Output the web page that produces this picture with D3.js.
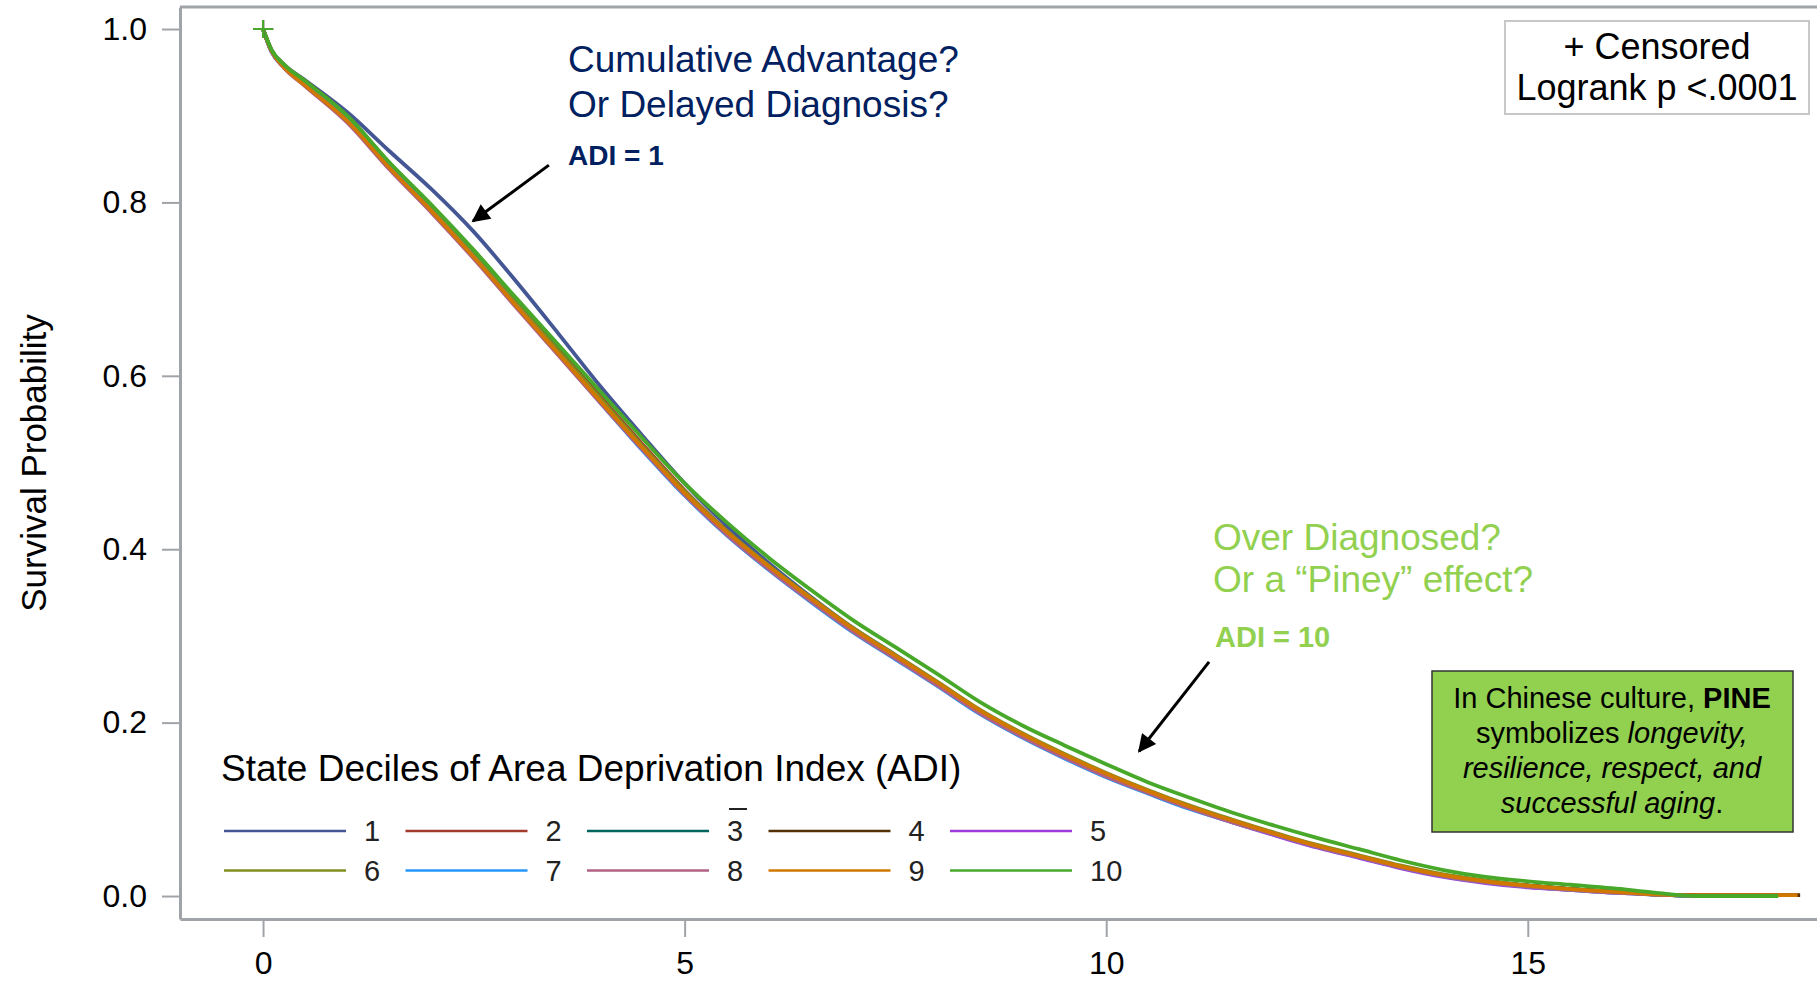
<!DOCTYPE html>
<html>
<head>
<meta charset="utf-8">
<script src="https://cdn.jsdelivr.net/npm/d3@7"></script>
<style>
  body { margin: 0; background: #fff; }
  text { font-family: "Liberation Sans", Arial, sans-serif; }
</style>
</head>
<body>
<div class="canvas"></div>
<script>
// survival time grid (years) and Kaplan-Meier estimates
const times = [0, 0.1, 0.25, 0.5, 1, 1.5, 2, 2.5, 3, 3.5, 4, 4.5, 5, 5.5, 6, 6.5, 7, 7.5, 8, 8.5,
  9, 9.5, 10, 10.5, 11, 11.5, 12, 12.5, 13, 13.5, 14, 14.5, 15, 15.5, 16, 16.5, 17];

const adi1 = [1.000,0.976,0.959,0.941,0.904,0.859,0.815,0.766,0.709,0.649,0.588,0.531,0.476,0.427,0.384,0.345,0.309,0.278,0.246,0.214,
  0.187,0.163,0.141,0.121,0.103,0.087,0.072,0.058,0.046,0.034,0.024,0.017,0.012,0.008,0.005,0.002,0.000];
const adi2 = [1.000,0.975,0.958,0.940,0.899,0.845,0.795,0.742,0.686,0.631,0.576,0.521,0.468,0.421,0.380,0.343,0.308,0.277,0.246,0.214,
  0.187,0.163,0.141,0.121,0.103,0.087,0.072,0.058,0.046,0.034,0.024,0.017,0.012,0.008,0.005,0.002,0.001];
const adi3 = [1.000,0.975,0.957,0.937,0.896,0.842,0.792,0.738,0.682,0.627,0.572,0.517,0.465,0.419,0.378,0.341,0.306,0.275,0.244,0.212,
  0.185,0.161,0.139,0.120,0.102,0.087,0.072,0.058,0.046,0.034,0.024,0.017,0.012,0.008,0.005,0.002,0.000];
const adi4 = [1.000,0.975,0.957,0.938,0.897,0.843,0.793,0.739,0.683,0.628,0.573,0.518,0.466,0.420,0.380,0.343,0.308,0.277,0.246,0.214,
  0.187,0.163,0.141,0.121,0.103,0.087,0.072,0.058,0.046,0.034,0.024,0.017,0.012,0.008,0.005,0.002,0.001];
const adi5 = [1.000,0.974,0.956,0.936,0.895,0.842,0.792,0.739,0.683,0.628,0.573,0.518,0.466,0.420,0.380,0.343,0.308,0.277,0.246,0.214,
  0.187,0.163,0.140,0.119,0.101,0.085,0.070,0.056,0.044,0.032,0.022,0.015,0.010,0.007,0.004,0.002,0.000];
const adi6 = [1.000,0.975,0.958,0.938,0.897,0.843,0.793,0.740,0.684,0.629,0.574,0.519,0.467,0.421,0.381,0.344,0.309,0.278,0.247,0.215,
  0.188,0.164,0.142,0.122,0.104,0.088,0.073,0.059,0.047,0.035,0.025,0.018,0.012,0.008,0.005,0.002,0.000];
const adi7 = [1.000,0.974,0.956,0.936,0.895,0.841,0.790,0.737,0.681,0.625,0.569,0.514,0.462,0.416,0.376,0.339,0.304,0.273,0.242,0.210,
  0.183,0.159,0.137,0.118,0.100,0.085,0.071,0.057,0.045,0.033,0.023,0.016,0.011,0.007,0.004,0.002,0.000];
const adi8 = [1.000,0.974,0.955,0.934,0.892,0.838,0.788,0.735,0.679,0.624,0.569,0.515,0.463,0.417,0.377,0.340,0.305,0.274,0.243,0.211,
  0.184,0.160,0.138,0.119,0.101,0.085,0.071,0.057,0.045,0.033,0.023,0.016,0.011,0.007,0.004,0.002,0.000];
const adi9 = [1.000,0.975,0.956,0.935,0.894,0.840,0.790,0.737,0.681,0.626,0.571,0.517,0.465,0.420,0.380,0.343,0.308,0.277,0.246,0.214,
  0.187,0.163,0.141,0.121,0.103,0.087,0.072,0.058,0.046,0.034,0.024,0.017,0.012,0.008,0.005,0.002,0.001];
const adi10 = [1.000,0.976,0.959,0.940,0.900,0.846,0.797,0.745,0.690,0.636,0.582,0.528,0.476,0.431,0.390,0.353,0.318,0.287,0.256,0.224,
  0.197,0.174,0.152,0.131,0.113,0.096,0.081,0.067,0.054,0.041,0.030,0.022,0.017,0.013,0.009,0.004,0.000];

// last follow-up time of each group (curve stays flat to here)
const endTimes = [17.0, 17.0, 17.0, 18.23, 17.0, 17.0, 17.0, 17.0, 18.2, 17.97];

const groups = ['1', '2', '3', '4', '5', '6', '7', '8', '9', '10'];
const series = [adi1, adi2, adi3, adi4, adi5, adi6, adi7, adi8, adi9, adi10];
const colors = ['#445694', '#A23A2E', '#01665E', '#543005', '#9D3CDB',
  '#7F8E1F', '#2597FA', '#B26084', '#D17800', '#47A82A'];

const xTicks = [0, 5, 10, 15];
const yTicks = [0, 0.2, 0.4, 0.6, 0.8, 1.0];

// dimensions
const margin = { top: 7, left: 180 };
const width = 1817;
const height = 983;
const graphWidth = width - margin.left;
const graphHeight = 912;
const font = '"Liberation Sans", Arial, sans-serif';
const axisColor = '#a0a4a8';
const navy = '#002060';
const lightGreen = '#92D050';

const svg = d3.select('.canvas')
    .append('svg')
    .attr('width', width)
    .attr('height', height);

const graph = svg.append('g')
    .attr('transform', `translate(${margin.left}, ${margin.top})`);

// scales
const x = d3.scaleLinear().domain([-0.985, 18.43]).range([0, graphWidth]);
const y = d3.scaleLinear().domain([-0.0265, 1.0254]).range([graphHeight, 0]);

// axes
const yAxis = d3.axisLeft(y)
    .tickValues(yTicks)
    .tickFormat(d3.format('.1f'))
    .tickSize(18)
    .tickSizeOuter(0)
    .tickPadding(15);

const xAxis = d3.axisBottom(x)
    .tickValues(xTicks)
    .tickFormat(d3.format('d'))
    .tickSize(18)
    .tickSizeOuter(0)
    .tickPadding(14);

const yAxisGroup = graph.append('g').call(yAxis);
const xAxisGroup = graph.append('g')
    .attr('transform', `translate(0, ${graphHeight})`)
    .call(xAxis);

[xAxisGroup, yAxisGroup].forEach(g => {
    g.attr('font-family', font).attr('font-size', 32);
    g.select('.domain').attr('stroke', axisColor).attr('stroke-width', 3);
    g.selectAll('.tick line').attr('stroke', axisColor).attr('stroke-width', 2);
    g.selectAll('.tick text').attr('fill', '#000');
});

// top frame line
graph.append('line')
    .attr('x1', 0).attr('x2', graphWidth)
    .attr('y1', 0).attr('y2', 0)
    .attr('stroke', axisColor)
    .attr('stroke-width', 3);

// y axis title
svg.append('text')
    .attr('transform', 'translate(46, 463) rotate(-90)')
    .attr('text-anchor', 'middle')
    .attr('font-size', 35)
    .attr('fill', '#000')
    .text('Survival Probability');

// survival curves
const line = d3.line()
    .x(d => x(d.t))
    .y(d => y(d.s))
    .curve(d3.curveMonotoneX);

const curveData = series.map((vals, i) => {
    const pts = times.map((t, j) => ({ t: t, s: vals[j] }));
    if (endTimes[i] > times[times.length - 1]) {
        pts.push({ t: endTimes[i], s: vals[vals.length - 1] });
    }
    return pts;
});

graph.selectAll('path.km')
    .data(curveData)
    .enter()
    .append('path')
        .attr('class', 'km')
        .attr('d', line)
        .attr('fill', 'none')
        .attr('stroke', (d, i) => colors[i])
        .attr('stroke-width', 3.8);

// censored marks at start
graph.selectAll('path.cens')
    .data(series)
    .enter()
    .append('path')
        .attr('class', 'cens')
        .attr('d', d => {
            const cx = x(times[0]), cy = y(d[0]);
            return `M${cx - 10},${cy}H${cx + 10}M${cx},${cy - 9}V${cy + 9}`;
        })
        .attr('fill', 'none')
        .attr('stroke', (d, i) => colors[i])
        .attr('stroke-width', 2);

// legend
svg.append('text')
    .attr('x', 221)
    .attr('y', 781)
    .attr('font-size', 37)
    .attr('fill', '#000')
    .text('State Deciles of Area Deprivation Index (ADI)');

const legend = svg.selectAll('g.item')
    .data(groups)
    .enter()
    .append('g')
        .attr('class', 'item')
        .attr('transform', (d, i) => `translate(${224 + (i % 5) * 181.5}, ${831 + Math.floor(i / 5) * 39.5})`);

legend.append('line')
    .attr('x1', 0).attr('x2', 122)
    .attr('y1', 0).attr('y2', 0)
    .attr('stroke', (d, i) => colors[i])
    .attr('stroke-width', 2.5);

legend.append('text')
    .attr('x', 140)
    .attr('y', 10)
    .attr('font-size', 29)
    .attr('fill', '#222')
    .text(d => d);

// stray bar over the "3"
legend.filter(d => d === '3')
    .append('line')
    .attr('x1', 142).attr('x2', 160)
    .attr('y1', -22).attr('y2', -22)
    .attr('stroke', '#222')
    .attr('stroke-width', 2);

// censored / logrank inset
svg.append('rect')
    .attr('x', 1505).attr('y', 21)
    .attr('width', 304).attr('height', 93)
    .attr('fill', '#fff')
    .attr('stroke', '#c8c8c8')
    .attr('stroke-width', 2);

svg.selectAll('text.inset')
    .data(['+ Censored', 'Logrank p <.0001'])
    .enter()
    .append('text')
        .attr('class', 'inset')
        .attr('x', 1657)
        .attr('y', (d, i) => 59 + i * 41)
        .attr('text-anchor', 'middle')
        .attr('font-size', 36)
        .attr('fill', '#000')
        .text(d => d);

// arrow head
svg.append('defs').append('marker')
    .attr('id', 'arrow')
    .attr('viewBox', '0 0 10 10')
    .attr('refX', 9)
    .attr('refY', 5)
    .attr('markerUnits', 'userSpaceOnUse')
    .attr('markerWidth', 24)
    .attr('markerHeight', 18)
    .attr('orient', 'auto')
  .append('path')
    .attr('d', 'M0,0L10,5L0,10Z')
    .attr('fill', '#000');

// annotation: ADI = 1
const note1 = svg.append('text').attr('font-size', 37).attr('fill', navy);
note1.append('tspan').attr('x', 568).attr('y', 72).text('Cumulative Advantage?');
note1.append('tspan').attr('x', 568).attr('y', 117).text('Or Delayed Diagnosis?');

svg.append('text')
    .attr('x', 568).attr('y', 165)
    .attr('font-size', 28)
    .attr('font-weight', 'bold')
    .attr('fill', navy)
    .text('ADI = 1');

graph.append('line')
    .attr('x1', x(3.39)).attr('y1', y(0.843))
    .attr('x2', x(2.49)).attr('y2', y(0.7785))
    .attr('stroke', '#000')
    .attr('stroke-width', 3)
    .attr('marker-end', 'url(#arrow)');

// annotation: ADI = 10
const note2 = svg.append('text').attr('font-size', 37).attr('fill', lightGreen);
note2.append('tspan').attr('x', 1213).attr('y', 550).text('Over Diagnosed?');
note2.append('tspan').attr('x', 1213).attr('y', 592).text('Or a \u201CPiney\u201D effect?');

svg.append('text')
    .attr('x', 1215).attr('y', 647)
    .attr('font-size', 29)
    .attr('font-weight', 'bold')
    .attr('fill', lightGreen)
    .text('ADI = 10');

graph.append('line')
    .attr('x1', x(11.22)).attr('y1', y(0.270))
    .attr('x2', x(10.39)).attr('y2', y(0.167))
    .attr('stroke', '#000')
    .attr('stroke-width', 3)
    .attr('marker-end', 'url(#arrow)');

// pine box
svg.append('rect')
    .attr('x', 1432).attr('y', 671)
    .attr('width', 361).attr('height', 161)
    .attr('fill', lightGreen)
    .attr('stroke', '#333')
    .attr('stroke-width', 1.5);

const pine = svg.append('text')
    .attr('text-anchor', 'middle')
    .attr('font-size', 29)
    .attr('fill', '#000');

const l1 = pine.append('tspan').attr('x', 1612).attr('y', 708);
l1.append('tspan').text('In Chinese culture, ');
l1.append('tspan').attr('font-weight', 'bold').text('PINE');

const l2 = pine.append('tspan').attr('x', 1612).attr('y', 743);
l2.append('tspan').text('symbolizes ');
l2.append('tspan').attr('font-style', 'italic').text('longevity,');

pine.append('tspan').attr('x', 1612).attr('y', 778)
    .attr('font-style', 'italic').text('resilience, respect, and');

const l4 = pine.append('tspan').attr('x', 1612).attr('y', 813);
l4.append('tspan').attr('font-style', 'italic').text('successful aging');
l4.append('tspan').text('.');
</script>
</body>
</html>
